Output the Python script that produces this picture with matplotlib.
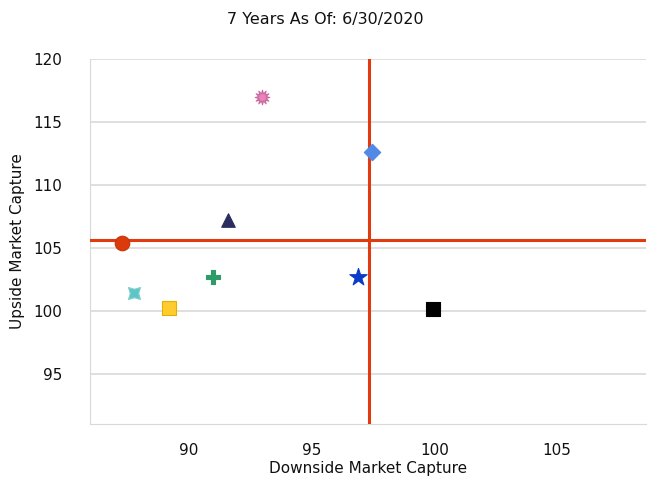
import matplotlib.pyplot as plt

# downside / upside capture per fund
downside = [87.3, 87.8, 89.2, 91.0, 91.6, 93.0, 97.45, 96.9, 99.95]
upside = [105.4, 101.4, 100.25, 102.7, 107.2, 117.0, 112.6, 102.7, 100.1]
markers = ["o", (4, 1, 45), "s", "P", "^", (12, 1, 0), "D", "*", "s"]
colors = ["#DB3A0C", "#5CC6C6", "#FFCB2E", "#2E9C68", "#2B2D5E",
          "#E884BC", "#5089E6", "#0A3CC8", "#000000"]
edges = ["#C93208", "#8ACFCF", "#E2B000", "#2E9C68", "#2B2D5E",
         "#C96A9E", "#5089E6", "#0A3CC8", "#000000"]
sizes = [110, 150, 105, 90, 95, 110, 70, 170, 105]

avg_down = 97.36
avg_up = 105.63

xticks = [90, 95, 100, 105]
yticks = [95, 100, 105, 110, 115, 120]

fig = plt.figure(figsize=(6.5, 4.79), dpi=100)
ax = fig.add_axes([0.1385, 0.1148, 0.855, 0.762])

for x, y, m, c, e, s in zip(downside, upside, markers, colors, edges, sizes):
    ax.scatter(x, y, marker=m, s=s, color=c, edgecolors=e, linewidths=0.8, zorder=4)

ax.axvline(avg_down, color="#E03A0E", lw=2.2, zorder=3)
ax.axhline(avg_up, color="#E03A0E", lw=2.2, zorder=3)

ax.set_xlim(86, 108.6)
ax.set_ylim(91, 120)
ax.set_xticks(xticks)
ax.set_yticks(yticks)
ax.yaxis.grid(True, color="#D9D9D9", lw=1.2)
ax.set_axisbelow(True)
ax.tick_params(length=0, labelsize=11, pad=14, colors="#111111")
ax.tick_params(axis="y", pad=20)

for side in ["top", "right"]:
    ax.spines[side].set_visible(False)
ax.spines["left"].set_color("#D9D9D9")
ax.spines["bottom"].set_color("#D9D9D9")

ax.set_xlabel("Downside Market Capture", fontsize=11, labelpad=2, color="#111111")
ax.set_ylabel("Upside Market Capture", fontsize=11, labelpad=6, color="#111111")
fig.suptitle("7 Years As Of: 6/30/2020", fontsize=11.5, y=0.975, color="#111111")

fig.savefig("out.png", dpi=100)
